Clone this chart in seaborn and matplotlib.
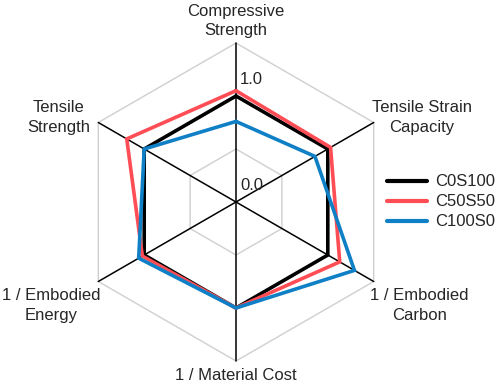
import numpy as np
import pandas as pd
import seaborn as sns
import matplotlib.pyplot as plt
from matplotlib.lines import Line2D

# data (normalised to C0S100)
categories = ["Compressive\nStrength", "Tensile Strain\nCapacity", "1 / Embodied\nCarbon",
              "1 / Material Cost", "1 / Embodied\nEnergy", "Tensile\nStrength"]
mixes = ["C0S100", "C50S50", "C100S0"]
c0s100 = [1.00, 1.00, 1.00, 1.00, 1.00, 1.00]
c50s50 = [1.05, 1.03, 1.13, 1.00, 1.02, 1.19]
c100s0 = [0.76, 0.86, 1.29, 1.00, 1.06, 1.00]
tick_values = [0.0, 1.0]
grid_levels = [0.5, 1.0, 1.5]
colors = ["#000000", "#ff4d55", "#0f80c6"]

sns.set_style("white")
plt.rcParams['font.family'] = ['Liberation Sans', 'DejaVu Sans']

theta = np.linspace(0, 2 * np.pi, len(categories), endpoint=False)
theta_closed = np.append(theta, 2 * np.pi)

rows = []
for name, vals in zip(mixes, [c0s100, c50s50, c100s0]):
    for t, v in zip(theta_closed, vals + vals[:1]):
        rows.append({"theta": t, "value": v, "mix": name})
df = pd.DataFrame(rows)

fig = plt.figure(figsize=(4.98, 3.83), dpi=100)
ax = fig.add_axes([77 / 498, 22 / 383, 318 / 498, 318 / 383], projection='polar')
ax.set_theta_offset(np.pi / 2)
ax.set_theta_direction(-1)
ax.set_ylim(0, 1.5)
ax.grid(False)
ax.spines['polar'].set_visible(False)
ax.set_xticks([])
ax.set_yticks([])

# hexagonal grid + black spokes
for lev in grid_levels:
    ax.plot(theta_closed, [lev] * len(theta_closed), color='#cfcfcf', lw=1.0,
            zorder=1, clip_on=False)
for t in theta:
    ax.plot([t, t], [0, 1.5], color='black', lw=1.1, zorder=2, clip_on=False)

sns.lineplot(data=df, x="theta", y="value", hue="mix", hue_order=mixes,
             palette=colors, sort=False, estimator=None, linewidth=2.6,
             legend=False, ax=ax, zorder=3, solid_joinstyle='miter')
ax.set_xlabel('')
ax.set_ylabel('')

# radial tick labels
for v in tick_values:
    ax.annotate(f"{v:.1f}", xy=(0, v), xytext=(4, 12), textcoords='offset pixels',
                ha='left', va='baseline', fontsize=12)

# category labels
offsets = [(0, 22), (48, 5), (46, -24), (0, -14), (-47, -24), (-40, 5)]
for t, lab, off in zip(theta, categories, offsets):
    ax.annotate(lab, xy=(t, 1.5), xytext=off, textcoords='offset pixels',
                ha='center', va='center', multialignment='center',
                fontsize=12, linespacing=1.35, annotation_clip=False)

handles = [Line2D([0], [0], color=c, lw=3.0) for c in colors]
fig.legend(handles, mixes, loc='center left', bbox_to_anchor=(387 / 498, 181 / 383),
           frameon=False, fontsize=12, handlelength=2.4, handletextpad=0.5,
           labelspacing=0.3, borderpad=0, borderaxespad=0)

fig.savefig('out.png', dpi=100)
